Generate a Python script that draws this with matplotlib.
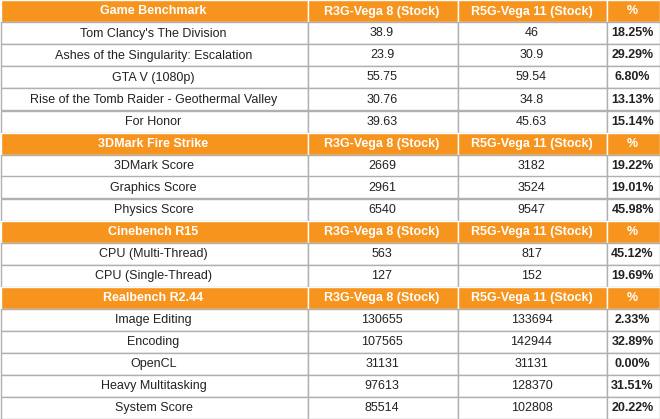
import matplotlib.pyplot as plt
from matplotlib.patches import Rectangle

col_a = "R3G-Vega 8 (Stock)"
col_b = "R5G-Vega 11 (Stock)"

section_titles = ["Game Benchmark", "3DMark Fire Strike", "Cinebench R15", "Realbench R2.44"]
section_labels = [
    ["Tom Clancy's The Division", "Ashes of the Singularity: Escalation", "GTA V (1080p)",
     "Rise of the Tomb Raider - Geothermal Valley", "For Honor"],
    ["3DMark Score", "Graphics Score", "Physics Score"],
    ["CPU (Multi-Thread)", "CPU (Single-Thread)"],
    ["Image Editing", "Encoding", "OpenCL", "Heavy Multitasking", "System Score"],
]
values_a = [
    ["38.9", "23.9", "55.75", "30.76", "39.63"],
    ["2669", "2961", "6540"],
    ["563", "127"],
    ["130655", "107565", "31131", "97613", "85514"],
]
values_b = [
    ["46", "30.9", "59.54", "34.8", "45.63"],
    ["3182", "3524", "9547"],
    ["817", "152"],
    ["133694", "142944", "31131", "128370", "102808"],
]
percents = [
    ["18.25%", "29.29%", "6.80%", "13.13%", "15.14%"],
    ["19.22%", "19.01%", "45.98%"],
    ["45.12%", "19.69%"],
    ["2.33%", "32.89%", "0.00%", "31.51%", "20.22%"],
]

W, H = 660, 419
cols = [0, 307, 457, 606, 659]
orange = "#f7941d"
grid = "#b0b0b0"

fig = plt.figure(figsize=(W / 100, H / 100), dpi=100)
ax = fig.add_axes([0, 0, 1, 1])
ax.set_xlim(0, W)
ax.set_ylim(H, 0)
ax.axis("off")

n_rows = sum(len(s) + 1 for s in section_labels)
rh = (H - 1) / n_rows

def draw_row(y, texts, header):
    for i, t in enumerate(texts):
        x0, x1 = cols[i], cols[i + 1]
        ax.add_patch(Rectangle((x0 + 0.5, y), x1 - x0, rh,
                               facecolor=orange if header else "white",
                               edgecolor="white" if header else grid, lw=1))
        if header:
            ax.text((x0 + x1) / 2, y + rh / 2, t, ha="center", va="center",
                    color="white", fontsize=9, fontweight="bold", family="Arial" if False else "Liberation Sans")
        else:
            bold = i == 3
            ax.text((x0 + x1) / 2, y + rh / 2, t, ha="center", va="center",
                    color="#222222", fontsize=9, fontweight="bold" if bold else "normal",
                    family="Liberation Sans")

y = 0.5
for s, title in enumerate(section_titles):
    draw_row(y, [title, col_a, col_b, "%"], True)
    y += rh
    for lab, a, b, p in zip(section_labels[s], values_a[s], values_b[s], percents[s]):
        draw_row(y, [lab, a, b, p], False)
        y += rh

fig.savefig("out.png", dpi=100)
